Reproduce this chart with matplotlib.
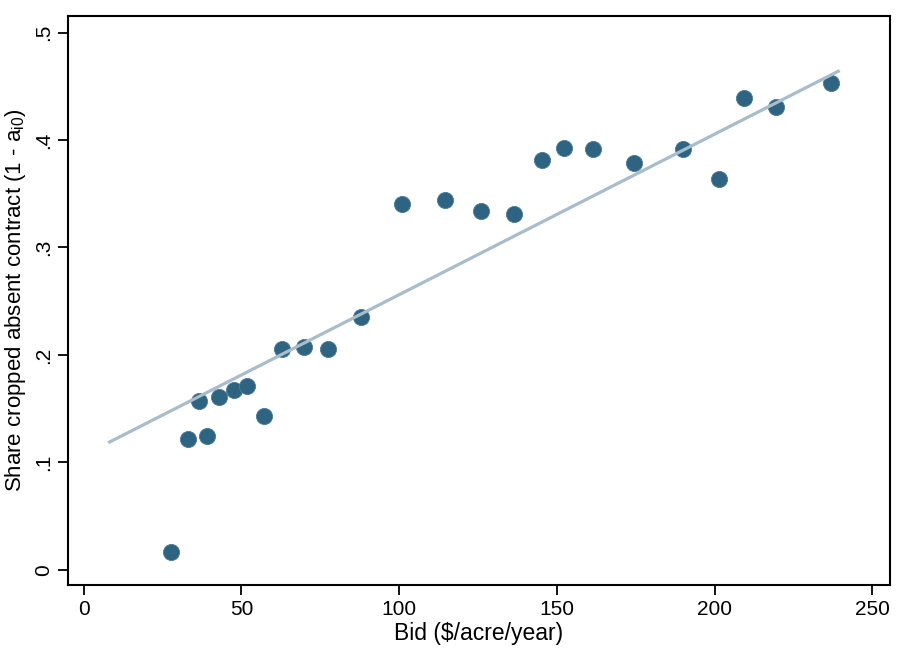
import matplotlib.pyplot as plt

plt.rcParams['font.family'] = ['Liberation Sans', 'DejaVu Sans']
plt.rcParams['mathtext.fontset'] = 'custom'
plt.rcParams['mathtext.rm'] = 'Liberation Sans'
plt.rcParams['mathtext.it'] = 'Liberation Sans'

# binned scatter: bid vs share cropped
bid = [27.8, 33.2, 36.4, 39.2, 43.0, 47.5, 51.9, 57.0, 63.0, 69.9, 77.5, 88.0,
       100.9, 114.6, 125.9, 136.4, 145.3, 152.2, 161.4, 174.4, 189.9, 201.3,
       209.2, 219.3, 237.0]
share = [0.017, 0.122, 0.157, 0.125, 0.161, 0.167, 0.171, 0.143, 0.206, 0.207,
         0.206, 0.235, 0.340, 0.344, 0.334, 0.331, 0.381, 0.393, 0.392, 0.379,
         0.392, 0.364, 0.439, 0.431, 0.453]

# fitted line endpoints
fit_x = [8.2, 239.2]
fit_y = [0.119, 0.464]

fig = plt.figure(figsize=(9.05, 6.61), dpi=100)
ax = fig.add_axes([0.0751, 0.115, 0.908, 0.861])

ax.scatter(bid, share, s=135, color='#2e6382', edgecolors='#4a7b96',
           linewidths=0.6, zorder=2)
ax.plot(fit_x, fit_y, color='#a8bccb', lw=2.3, zorder=3)

ax.set_xlim(-5, 255.5)
ax.set_ylim(-0.014, 0.5155)
ax.set_xticks([0, 50, 100, 150, 200, 250])
ax.set_yticks([0, 0.1, 0.2, 0.3, 0.4, 0.5])
ax.set_yticklabels(['0', '.1', '.2', '.3', '.4', '.5'], rotation=90, va='center')

for s in ax.spines.values():
    s.set_linewidth(1.5)
ax.tick_params(length=7, width=1.3, labelsize=15, pad=4)

ax.set_xlabel('Bid ($/acre/year)', fontsize=16.5, labelpad=2)
ax.set_ylabel('Share cropped absent contract (1 - a$_{\\mathrm{i0}}$)', fontsize=16, labelpad=4)

fig.savefig('out.png', dpi=100)
